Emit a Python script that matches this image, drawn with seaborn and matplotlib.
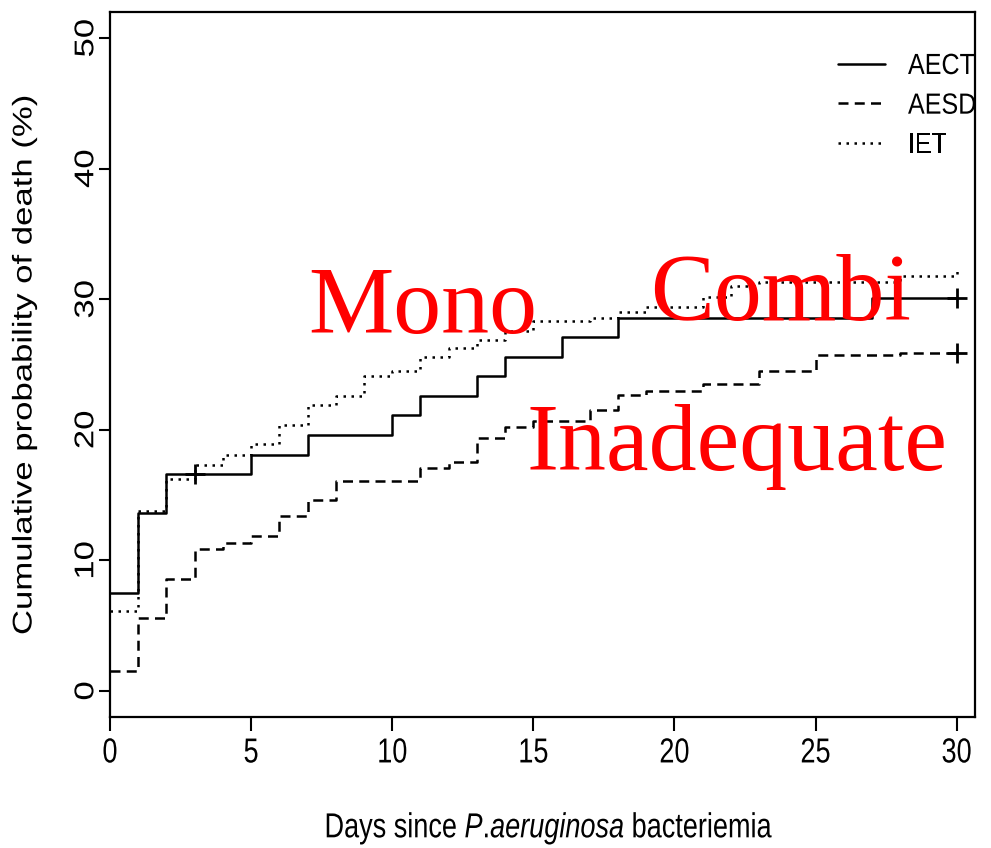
import matplotlib
matplotlib.use("Agg")
import matplotlib.pyplot as plt
import numpy as np
import pandas as pd
import seaborn as sns
from matplotlib.patheffects import AbstractPathEffect
from matplotlib.transforms import Affine2D

# Kaplan-Meier style cumulative mortality (%) by treatment group
groups = ["AECT", "AESD", "IET"]

aect_days = [0, 1, 2, 5, 7, 10, 11, 13, 14, 16, 18, 27, 30]
aect_death = [7.5, 13.6, 16.6, 18.1, 19.6, 21.1, 22.6, 24.1, 25.6, 27.1, 28.6, 30.1, 30.1]

aesd_days = [0, 1, 2, 3, 4, 5, 6, 7, 8, 11, 12, 13, 14, 15, 17, 18, 19, 21, 23, 25, 28, 30]
aesd_death = [1.5, 5.6, 8.6, 10.9, 11.3, 11.9, 13.4, 14.6, 16.1, 17.1, 17.5, 19.4, 20.2,
              20.7, 21.5, 22.7, 23.0, 23.5, 24.5, 25.7, 25.9, 25.9]

iet_days = [0, 1, 2, 3, 4, 5, 6, 7, 8, 9, 10, 11, 12, 13, 14, 15, 17, 18, 19, 21, 22, 23, 28, 30]
iet_death = [6.1, 13.8, 16.2, 17.3, 18.1, 18.9, 20.4, 21.9, 22.6, 24.1, 24.5, 25.6, 26.3,
             26.9, 27.6, 28.3, 28.6, 29.0, 29.4, 30.2, 31.0, 31.3, 31.8, 32.2]

# censored observations (marked with +)
aect_censored = [3, 30]
aesd_censored = [30]

x_ticks = [0, 5, 10, 15, 20, 25, 30]
y_ticks = [0, 10, 20, 30, 40, 50]

overlay_labels = ["Mono", "Combi", "Inadequate"]


class Squeeze(AbstractPathEffect):
    """Draw text glyphs compressed along one direction (narrow lettering)."""

    def __init__(self, sx=1.0, sy=1.0, anchor="center"):
        super().__init__()
        self.sx, self.sy, self.anchor = sx, sy, anchor

    def draw_path(self, renderer, gc, tpath, affine, rgbFace=None):
        ext = tpath.get_extents()
        cx = (ext.x0 + ext.x1) / 2 if self.anchor == "center" else 0.0
        squeeze = Affine2D().translate(-cx, 0).scale(self.sx, self.sy).translate(cx, 0)
        renderer.draw_path(gc, tpath, squeeze + affine, rgbFace)


def step_value(days, values, d):
    idx = max(i for i, t in enumerate(days) if t <= d)
    return values[idx]


curves = pd.concat([
    pd.DataFrame({"day": aect_days, "death": aect_death, "group": "AECT"}),
    pd.DataFrame({"day": aesd_days, "death": aesd_death, "group": "AESD"}),
    pd.DataFrame({"day": iet_days, "death": iet_death, "group": "IET"}),
], ignore_index=True)

censor = pd.DataFrame({
    "day": aect_censored + aesd_censored,
    "death": [step_value(aect_days, aect_death, d) for d in aect_censored]
             + [step_value(aesd_days, aesd_death, d) for d in aesd_censored],
})

sns.set_theme(style="ticks")
plt.rcParams.update({
    "font.family": ["Liberation Sans", "DejaVu Sans"],
    "text.color": "black",
    "axes.labelcolor": "black",
    "xtick.color": "black",
    "ytick.color": "black",
    "mathtext.fontset": "custom",
    "mathtext.rm": "Liberation Sans",
    "mathtext.it": "Liberation Sans:italic",
})

SQ = 0.78
W, H = 991, 848
fig = plt.figure(figsize=(W / 100, H / 100), dpi=100, facecolor="white")
ax = fig.add_axes([110 / W, 1 - 717 / H, 865 / W, 705 / H])
ax.set_facecolor("white")

sns.lineplot(
    data=curves, x="day", y="death", style="group", style_order=groups,
    dashes={"AECT": "", "AESD": (4, 2.5), "IET": (1, 2.2)},
    color="black", linewidth=1.8, drawstyle="steps-post",
    estimator=None, sort=False, ax=ax, legend=True,
)
sns.scatterplot(
    data=censor, x="day", y="death", marker="+", s=220,
    color="black", linewidth=2, ax=ax, legend=False, zorder=5,
)

ax.set_xlim(0, 30.65)
ax.set_ylim(-2, 52)
ax.set_xticks(x_ticks)
ax.set_yticks(y_ticks)
ax.tick_params(axis="x", direction="out", length=10, width=1.5, labelsize=25, pad=4)
ax.tick_params(axis="y", direction="out", length=8, width=1.5, labelsize=25, pad=-1,
               labelrotation=90)
for lab in ax.get_xticklabels():
    lab.set_path_effects([Squeeze(sx=SQ)])
for lab in ax.get_yticklabels():
    lab.set_va("center")
    lab.set_path_effects([Squeeze(sy=SQ)])
for sp in ax.spines.values():
    sp.set_linewidth(1.6)
    sp.set_color("black")

ax.set_xlabel("Days since $\\mathit{P}$.$\\mathit{aeruginosa}$ bacteriemia",
              fontsize=25, va="center")
ax.xaxis.set_label_coords((549 - 110) / 865, (717 - 828) / 705)
ax.xaxis.label.set_path_effects([Squeeze(sx=SQ)])
ax.set_ylabel("Cumulative probability of death (%)", fontsize=25, va="center")
ax.yaxis.set_label_coords((22 - 110) / 865, 0.5)
ax.yaxis.label.set_path_effects([Squeeze(sy=SQ)])

old = ax.get_legend()
handles = list(old.legend_handles)
labels = [t.get_text() for t in old.get_texts()]
old.remove()
for h in handles:
    h.set_color("black")
    h.set_linewidth(1.8)
leg = ax.legend(
    handles, labels, loc="upper left", bbox_to_anchor=(838 / W, 1 - 52 / H),
    bbox_transform=fig.transFigure, frameon=False, fontsize=21,
    handlelength=1.61, handletextpad=0.79, labelspacing=0.40, borderpad=0,
    borderaxespad=0,
)
for t in leg.get_texts():
    t.set_path_effects([Squeeze(sx=0.86, anchor="left")])

# red overlay annotations
overlay_pos = [(308, 333), (650, 320), (527, 470)]
for text, (px, py) in zip(overlay_labels, overlay_pos):
    fig.text(px / W, 1 - py / H, text, color="#ff0000", fontsize=69,
             family="Liberation Serif", ha="left", va="baseline")

fig.savefig("out.png", dpi=100, facecolor="white")
